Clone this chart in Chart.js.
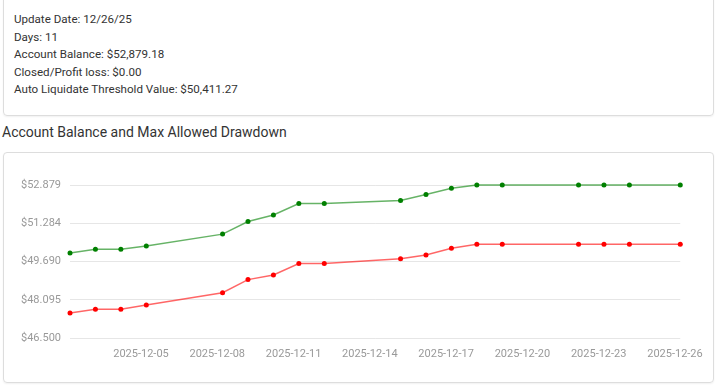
<!DOCTYPE html>
<html>
<head>
<meta charset="utf-8">
<script src="https://cdn.jsdelivr.net/npm/chart.js@4.4.1/dist/chart.umd.min.js"></script>
<style>
  body { margin: 0; background: #fff; font-family: Roboto, "Noto Sans", sans-serif; color: #333; }
  .info {
    position: absolute; left: 3px; top: -4px; width: 711px; height: 120px;
    border: 1px solid #ddd; border-radius: 4px; box-sizing: border-box;
    box-shadow: 0 1px 2px rgba(0,0,0,0.06);
    padding: 14px 0 0 10px; font-size: 11.6px; line-height: 17.6px;
  }
  .title { position: absolute; left: 2px; top: 124px; font-size: 14px; color: #333; }
  .card {
    position: absolute; left: 3px; top: 152px; width: 711px; height: 231px;
    border: 1px solid #ddd; border-radius: 4px; box-sizing: border-box;
    box-shadow: 0 1px 2px rgba(0,0,0,0.06);
  }
  .wrap { position: absolute; left: 0; top: 0; width: 709px; height: 229px; }
</style>
</head>
<body>
<div class="info">
  <div>Update Date: 12/26/25</div>
  <div>Days: 11</div>
  <div>Account Balance: $52,879.18</div>
  <div>Closed/Profit loss: $0.00</div>
  <div>Auto Liquidate Threshold Value: $50,411.27</div>
</div>
<div class="title">Account Balance and Max Allowed Drawdown</div>
<div class="card"><div class="wrap"><canvas id="myChart"></canvas></div></div>

<script>
// dates of each snapshot (recorded around 05:00)
var dates = ['2025-12-02', '2025-12-03', '2025-12-04', '2025-12-05', '2025-12-08', '2025-12-09',
    '2025-12-10', '2025-12-11', '2025-12-12', '2025-12-15', '2025-12-16', '2025-12-17',
    '2025-12-18', '2025-12-19', '2025-12-22', '2025-12-23', '2025-12-24', '2025-12-26'];
var sampleHour = 5;

var balance = [50048, 50200, 50200, 50336, 50831, 51354, 51626, 52108, 52108, 52232, 52479, 52739,
    52879.18, 52879.18, 52879.18, 52879.18, 52879.18, 52879.18];
var threshold = [47546, 47699, 47699, 47876, 48387, 48935, 49129, 49607, 49607, 49801, 49965, 50242,
    50411.27, 50411.27, 50411.27, 50411.27, 50411.27, 50411.27];

var xTickDates = ['2025-12-05', '2025-12-08', '2025-12-11', '2025-12-14', '2025-12-17',
    '2025-12-20', '2025-12-23', '2025-12-26'];
var yMin = 46500;
var yMax = 52879.18;
var yTickCount = 5;

function toMs(d, h) {
    var p = d.split('-');
    return Date.UTC(+p[0], +p[1] - 1, +p[2], h || 0);
}
function fmtDate(ms) {
    return new Date(ms).toISOString().slice(0, 10);
}

document.addEventListener('DOMContentLoaded', function () {
    var ctx = document.getElementById('myChart').getContext('2d');

    var balancePts = dates.map(function (d, i) { return { x: toMs(d, sampleHour), y: balance[i] }; });
    var thresholdPts = dates.map(function (d, i) { return { x: toMs(d, sampleHour), y: threshold[i] }; });

    new Chart(ctx, {
        type: 'line',
        data: {
            datasets: [{
                label: 'Account Balance',
                data: balancePts,
                borderColor: 'rgba(0, 128, 0, 0.6)',
                backgroundColor: 'green',
                pointBackgroundColor: 'green',
                pointBorderColor: 'green',
                borderWidth: 1.5,
                pointRadius: 2.5,
                pointBorderWidth: 0,
                clip: false
            }, {
                label: 'Max Allowed Drawdown',
                data: thresholdPts,
                borderColor: 'rgba(255, 0, 0, 0.6)',
                backgroundColor: 'red',
                pointBackgroundColor: 'red',
                pointBorderColor: 'red',
                borderWidth: 1.5,
                pointRadius: 2.5,
                pointBorderWidth: 0,
                clip: false
            }]
        },
        options: {
            responsive: true,
            maintainAspectRatio: false,
            animation: false,
            layout: { padding: { top: 32, right: 31, bottom: 14, left: 0 } },
            plugins: { legend: { display: false }, tooltip: { enabled: false } },
            scales: {
                x: {
                    type: 'linear',
                    min: toMs(dates[0], sampleHour),
                    max: toMs(dates[dates.length - 1], sampleHour),
                    grid: { display: false, drawTicks: false },
                    border: { display: false },
                    afterBuildTicks: function (axis) {
                        axis.ticks = xTickDates.map(function (d) { return { value: toMs(d) }; });
                    },
                    afterFit: function (axis) { axis.height = 30; },
                    ticks: {
                        autoSkip: false,
                        maxRotation: 0,
                        padding: 10,
                        color: '#999',
                        font: { family: 'Roboto', size: 11 },
                        callback: function (v) { return fmtDate(v); }
                    }
                },
                y: {
                    min: yMin,
                    max: yMax,
                    grid: { color: '#e6e6e6', drawTicks: false },
                    border: { display: false },
                    afterBuildTicks: function (axis) {
                        var t = [];
                        for (var i = 0; i < yTickCount; i++) {
                            t.push({ value: yMin + (yMax - yMin) * i / (yTickCount - 1) });
                        }
                        axis.ticks = t;
                    },
                    afterFit: function (axis) { axis.width = 66; },
                    ticks: {
                        padding: 9,
                        color: '#999',
                        font: { family: 'Roboto', size: 11 },
                        callback: function (v) {
                            return '$' + Math.round(v).toLocaleString('de-DE');
                        }
                    }
                }
            }
        }
    });
});
</script>
</body>
</html>
